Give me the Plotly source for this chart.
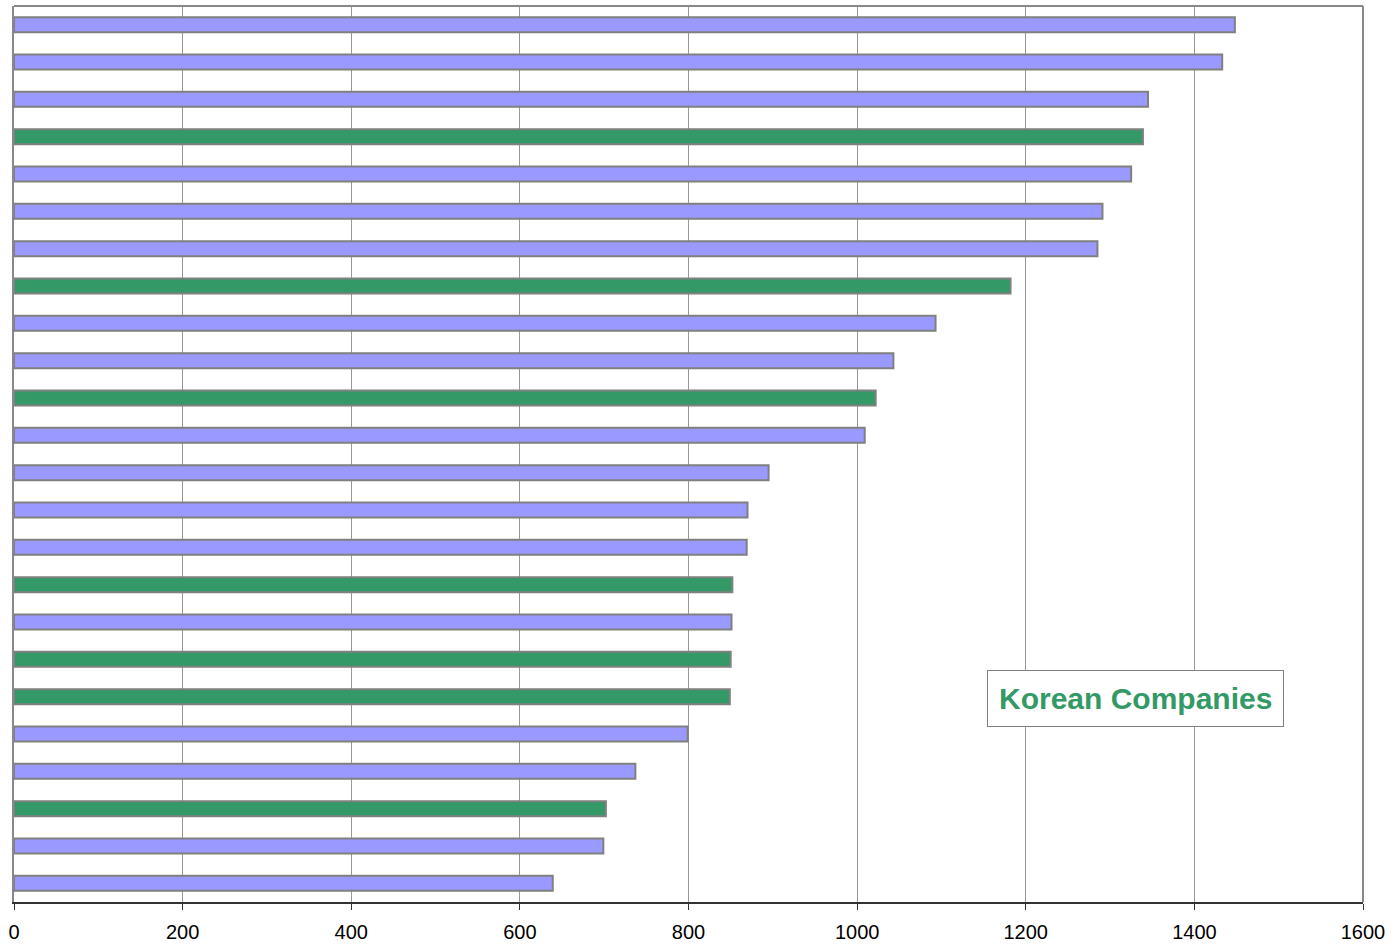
import plotly.graph_objects as go

# Companies ranked by value, top to bottom
companies = [f"Company {i}" for i in range(1, 25)]
values = [1448, 1433, 1345, 1339, 1325, 1291, 1285, 1182, 1093, 1043, 1022, 1009,
          895, 870, 869, 852, 851, 850, 849, 799, 737, 702, 699, 639]
is_korean = [False, False, False, True, False, False, False, True, False, False, True, False,
             False, False, False, True, False, True, True, False, False, True, False, False]

KOREAN_COLOR = "#339966"
OTHER_COLOR = "#9999FF"
bar_colors = [KOREAN_COLOR if k else OTHER_COLOR for k in is_korean]

fig = go.Figure(
    go.Bar(
        x=values,
        y=companies,
        orientation="h",
        marker=dict(color=bar_colors, line=dict(color="#808080", width=2)),
        hoverinfo="x+y",
    )
)

fig.update_layout(
    width=1395,
    height=945,
    margin=dict(l=14, r=32, t=6, b=43),
    paper_bgcolor="white",
    plot_bgcolor="white",
    bargap=0.6,
    showlegend=False,
    font=dict(family="Liberation Sans, Arial, sans-serif", color="black"),
    xaxis=dict(
        range=[0, 1600],
        tickvals=[0, 200, 400, 600, 800, 1000, 1200, 1400, 1600],
        showgrid=True,
        gridcolor="#999999",
        gridwidth=1,
        showline=True,
        linecolor="#333333",
        linewidth=2,
        ticks="outside",
        ticklen=6,
        tickcolor="#333333",
        ticklabelstandoff=5,
        tickfont=dict(size=20, color="black"),
        zeroline=False,
        automargin=False,
        fixedrange=True,
    ),
    yaxis=dict(
        autorange="reversed",
        showticklabels=False,
        ticks="",
        showgrid=False,
        showline=True,
        linecolor="#888888",
        linewidth=2,
        zeroline=False,
        automargin=False,
        fixedrange=True,
    ),
    shapes=[
        # top and right frame of the plot area
        dict(type="line", xref="paper", yref="paper", x0=0, x1=1, y0=1, y1=1,
             line=dict(color="#888888", width=2)),
        dict(type="line", xref="paper", yref="paper", x0=1, x1=1, y0=0, y1=1,
             line=dict(color="#888888", width=2)),
    ],
    annotations=[
        dict(
            text="<b>Korean Companies</b>",
            x=1330, xref="x", xanchor="center",
            y=0.2266, yref="paper", yanchor="middle",
            showarrow=False,
            font=dict(size=30, color=KOREAN_COLOR, family="Liberation Sans, Arial, sans-serif"),
            bgcolor="white",
            bordercolor="#808080",
            borderwidth=1,
            borderpad=11,
        )
    ],
)

fig.write_html("out.html")
